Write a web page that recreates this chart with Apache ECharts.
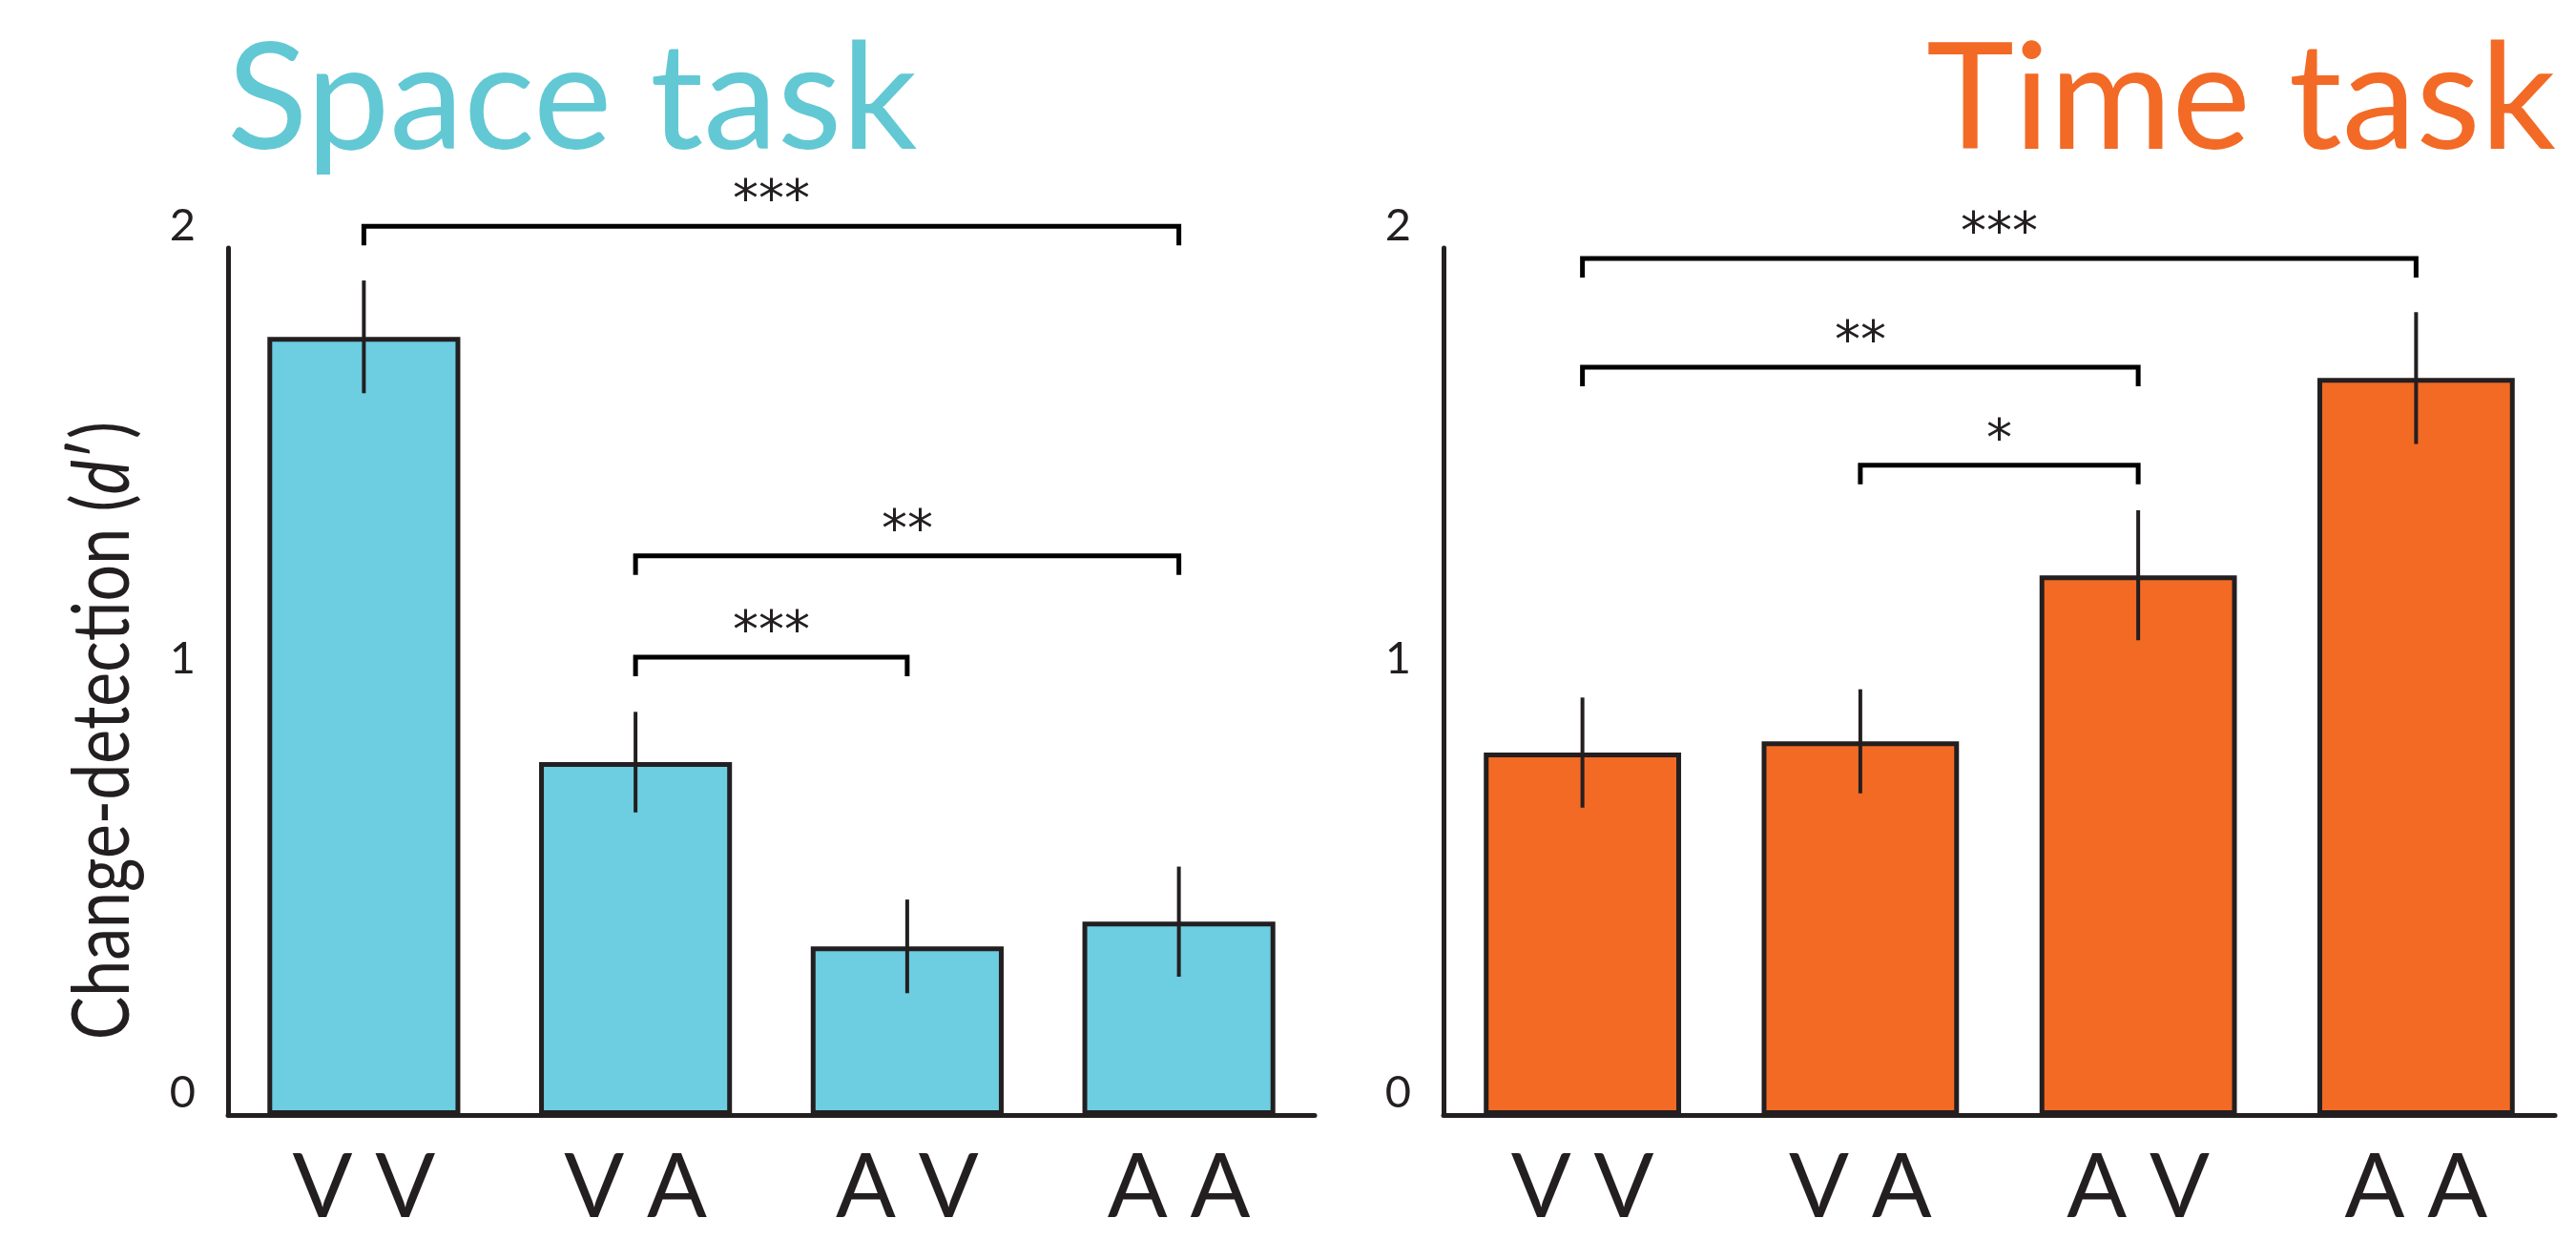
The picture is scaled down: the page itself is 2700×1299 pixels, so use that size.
<!DOCTYPE html>
<html>
<head>
<meta charset="utf-8">
<script src="https://cdn.jsdelivr.net/npm/echarts@6/dist/echarts.min.js"></script>
<style>
  html, body { margin: 0; padding: 0; background: #fff; }
  #chart { width: 2700px; height: 1299px; }
</style>
</head>
<body>
<div id="chart"></div>
<script>
var conditions = ['V V', 'V A', 'A V', 'A A'];

// change-detection d' means and error bar half-lengths
var spaceMean = [1.795, 0.814, 0.389, 0.446];
var spaceErr = [0.13, 0.116, 0.108, 0.127];
var timeMean = [0.836, 0.862, 1.245, 1.70];
var timeErr = [0.127, 0.12, 0.15, 0.152];

var yTicks = [0, 1, 2];

// significance brackets: [from, to, height]
var spaceBrackets = [[0, 3, 2.05], [1, 3, 1.29], [1, 2, 1.056]];
var spaceStars = ['***', '**', '***'];
var timeBrackets = [[0, 3, 1.976], [0, 2, 1.725], [1, 2, 1.499]];
var timeStars = ['***', '**', '*'];

var ink = '#231F20';
var teal = '#6DCDE1';
var orange = '#F26A24';

var myChart = echarts.init(document.getElementById('chart'));

function errBars(mean, err) {
  return mean.map(function (m, i) { return [i, m - err[i], m + err[i]]; });
}

function renderErr(params, api) {
  var top = api.coord([api.value(0), api.value(2)]);
  var bot = api.coord([api.value(0), api.value(1)]);
  return {
    type: 'line',
    shape: { x1: top[0], y1: top[1], x2: bot[0], y2: bot[1] },
    style: { stroke: ink, lineWidth: 4 }
  };
}

function bracketRenderer(stars) {
  return function (params, api) {
    var p1 = api.coord([api.value(0), api.value(2)]);
    var p2 = api.coord([api.value(1), api.value(2)]);
    var leg = 20;
    return {
      type: 'group',
      children: [
        {
          type: 'polyline',
          shape: { points: [[p1[0], p1[1] + leg], p1, p2, [p2[0], p2[1] + leg]] },
          style: { stroke: '#000', lineWidth: 5, fill: null }
        },
        {
          type: 'text',
          style: {
            text: stars[params.dataIndex],
            x: (p1[0] + p2[0]) / 2,
            y: p1[1] - 25,
            align: 'center',
            verticalAlign: 'middle',
            fontSize: 54,
            fontFamily: 'DejaVu Sans',
            fill: ink
          }
        }
      ]
    };
  };
}

var yAxisBase = {
  type: 'value',
  min: 0,
  max: 2,
  interval: 1,
  splitLine: { show: false },
  axisTick: { show: false },
  axisLine: { show: true, lineStyle: { color: ink, width: 5 } },
  axisLabel: {
    color: ink,
    fontSize: 47,
    fontFamily: 'Lato',
    margin: 34,
    verticalAlign: 'bottom',
    formatter: function (v) { return yTicks.indexOf(v) >= 0 ? String(v) : ''; }
  }
};

var xAxisBase = {
  type: 'category',
  data: conditions,
  axisTick: { show: false },
  axisLine: { lineStyle: { color: ink, width: 5 } },
  axisLabel: { color: ink, fontSize: 93, fontFamily: 'Lato', margin: 30 }
};

var option = {
  backgroundColor: '#fff',
  animation: false,
  title: [
    {
      text: 'Space task',
      left: 238, top: 28, padding: 0,
      textStyle: { color: '#62C8D4', fontSize: 156, fontWeight: 'normal', fontFamily: 'Lato' }
    },
    {
      text: 'Time task',
      right: 21, top: 28, padding: 0,
      textStyle: { color: '#F26A26', fontSize: 156, fontWeight: 'normal', fontFamily: 'Lato' }
    }
  ],
  graphic: [
    {
      // y-axis title, narrow and tall like the original typeface
      type: 'text',
      x: 108,
      y: 766,
      rotation: Math.PI / 2,
      scaleX: 0.82,
      style: {
        text: '{n|Change-detection (}{i|d}{n|′)}',
        align: 'center',
        verticalAlign: 'middle',
        rich: {
          n: { fontSize: 83, fontFamily: 'Lato', fill: ink },
          i: { fontSize: 83, fontFamily: 'Lato', fontStyle: 'italic', fill: ink }
        }
      }
    }
  ],
  grid: [
    { left: 239, right: 1322, top: 260, bottom: 130 },
    { left: 1513, right: 22, top: 260, bottom: 130 }
  ],
  xAxis: [
    Object.assign({ gridIndex: 0 }, xAxisBase),
    Object.assign({ gridIndex: 1 }, xAxisBase)
  ],
  yAxis: [
    Object.assign({ gridIndex: 0 }, yAxisBase),
    Object.assign({ gridIndex: 1 }, yAxisBase)
  ],
  series: [
    {
      name: 'Space task',
      type: 'bar',
      xAxisIndex: 0, yAxisIndex: 0,
      barWidth: '71%',
      data: spaceMean,
      itemStyle: { color: teal, borderColor: ink, borderWidth: 5 }
    },
    {
      name: 'Time task',
      type: 'bar',
      xAxisIndex: 1, yAxisIndex: 1,
      barWidth: '71%',
      data: timeMean,
      itemStyle: { color: orange, borderColor: ink, borderWidth: 5 }
    },
    {
      type: 'custom',
      xAxisIndex: 0, yAxisIndex: 0,
      z: 5,
      encode: { x: 0, y: [1, 2] },
      renderItem: renderErr,
      data: errBars(spaceMean, spaceErr)
    },
    {
      type: 'custom',
      xAxisIndex: 1, yAxisIndex: 1,
      z: 5,
      encode: { x: 0, y: [1, 2] },
      renderItem: renderErr,
      data: errBars(timeMean, timeErr)
    },
    {
      type: 'custom',
      xAxisIndex: 0, yAxisIndex: 0,
      z: 6,
      clip: false,
      encode: { x: [0, 1], y: 2 },
      renderItem: bracketRenderer(spaceStars),
      data: spaceBrackets
    },
    {
      type: 'custom',
      xAxisIndex: 1, yAxisIndex: 1,
      z: 6,
      clip: false,
      encode: { x: [0, 1], y: 2 },
      renderItem: bracketRenderer(timeStars),
      data: timeBrackets
    }
  ]
};

myChart.setOption(option);
</script>
</body>
</html>
